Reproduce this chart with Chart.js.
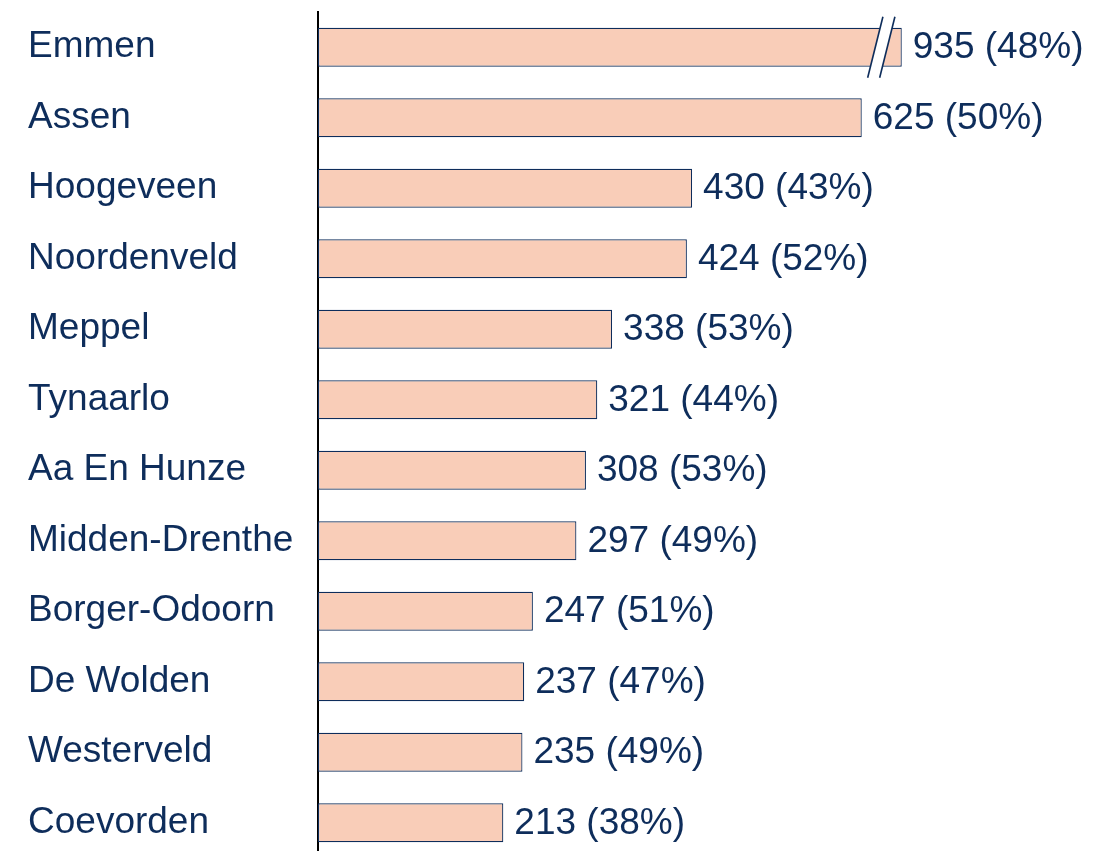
<!DOCTYPE html>
<html>
<head>
<meta charset="utf-8">
<script src="https://cdn.jsdelivr.net/npm/chart.js@4/dist/chart.umd.min.js"></script>
<style>
  html, body { margin: 0; padding: 0; background: #fff; overflow: hidden; }
  #wrap { width: 1110px; height: 851px; overflow: hidden; position: relative; }
  #c { display: block; }
</style>
</head>
<body>
<div id="wrap"><canvas id="c" width="1110" height="858"></canvas></div>
<script>
const categories = ["Emmen", "Assen", "Hoogeveen", "Noordenveld", "Meppel", "Tynaarlo", "Aa En Hunze", "Midden-Drenthe", "Borger-Odoorn", "De Wolden", "Westerveld", "Coevorden"];
const counts = [935, 625, 430, 424, 338, 321, 308, 297, 247, 237, 235, 213];
const percents = [48, 50, 43, 52, 53, 44, 53, 49, 51, 47, 49, 38];
const breakCap = 671; // bars above this value are drawn broken at this length
const axisMax = 900;

const NAVY = '#0E2D5B';
const FILL = '#F9CDB8';
const FONT = "'Liberation Sans', Arial, Helvetica, sans-serif";

const displayed = counts.map(v => Math.min(v, breakCap));

const labelPlugin = {
  id: 'valueLabels',
  afterDatasetsDraw(chart) {
    const ctx = chart.ctx;
    const meta = chart.getDatasetMeta(0);
    ctx.save();
    meta.data.forEach((bar, i) => {
      if (counts[i] > breakCap) {
        const top = bar.y - bar.height / 2;
        const bot = bar.y + bar.height / 2;
        const ext = 11;
        const slope = 0.25;
        const x1 = bar.x - 26.5, x2 = bar.x - 14.5;
        const yt = top - ext, yb = bot + ext;
        const h1 = (bar.y - yt) * slope;
        const h2 = (yb - bar.y) * slope;
        ctx.fillStyle = '#ffffff';
        ctx.beginPath();
        ctx.moveTo(x1 + (bar.y - top + 1) * slope, top - 1);
        ctx.lineTo(x2 + (bar.y - top + 1) * slope, top - 1);
        ctx.lineTo(x2 - (bot - bar.y + 1) * slope, bot + 1);
        ctx.lineTo(x1 - (bot - bar.y + 1) * slope, bot + 1);
        ctx.closePath();
        ctx.fill();
        ctx.strokeStyle = NAVY;
        ctx.lineWidth = 1.6;
        [x1, x2].forEach(x => {
          ctx.beginPath();
          ctx.moveTo(x + h1, yt);
          ctx.lineTo(x - h2, yb);
          ctx.stroke();
        });
      }
    });
    ctx.fillStyle = NAVY;
    ctx.font = "37px " + FONT;
    ctx.textAlign = 'left';
    ctx.textBaseline = 'middle';
    meta.data.forEach((bar, i) => {
      ctx.fillText(counts[i] + ' (' + percents[i] + '%)', bar.x + 11, bar.y + 1);
    });
    ctx.restore();
  }
};

new Chart(document.getElementById('c'), {
  type: 'bar',
  data: {
    labels: categories,
    datasets: [{
      data: displayed,
      backgroundColor: FILL,
      borderColor: NAVY,
      borderWidth: 1.2,
      borderSkipped: false,
      barPercentage: 0.553,
      categoryPercentage: 1.0
    }]
  },
  options: {
    indexAxis: 'y',
    responsive: false,
    animation: false,
    devicePixelRatio: 1,
    layout: { padding: { left: 28, right: 9, top: 12, bottom: 0 } },
    plugins: { legend: { display: false }, tooltip: { enabled: false } },
    scales: {
      x: { display: false, min: 0, max: axisMax },
      y: {
        afterFit(scale) {
          scale.width = 290;
          scale.paddingTop = 0;
          scale.paddingBottom = 0;
        },
        grid: { display: false, drawTicks: false },
        border: { display: true, color: '#000000', width: 2 },
        ticks: {
          crossAlign: 'far',
          color: NAVY,
          font: { family: FONT, size: 37 },
          padding: 0
        }
      }
    }
  },
  plugins: [labelPlugin]
});
</script>
</body>
</html>
